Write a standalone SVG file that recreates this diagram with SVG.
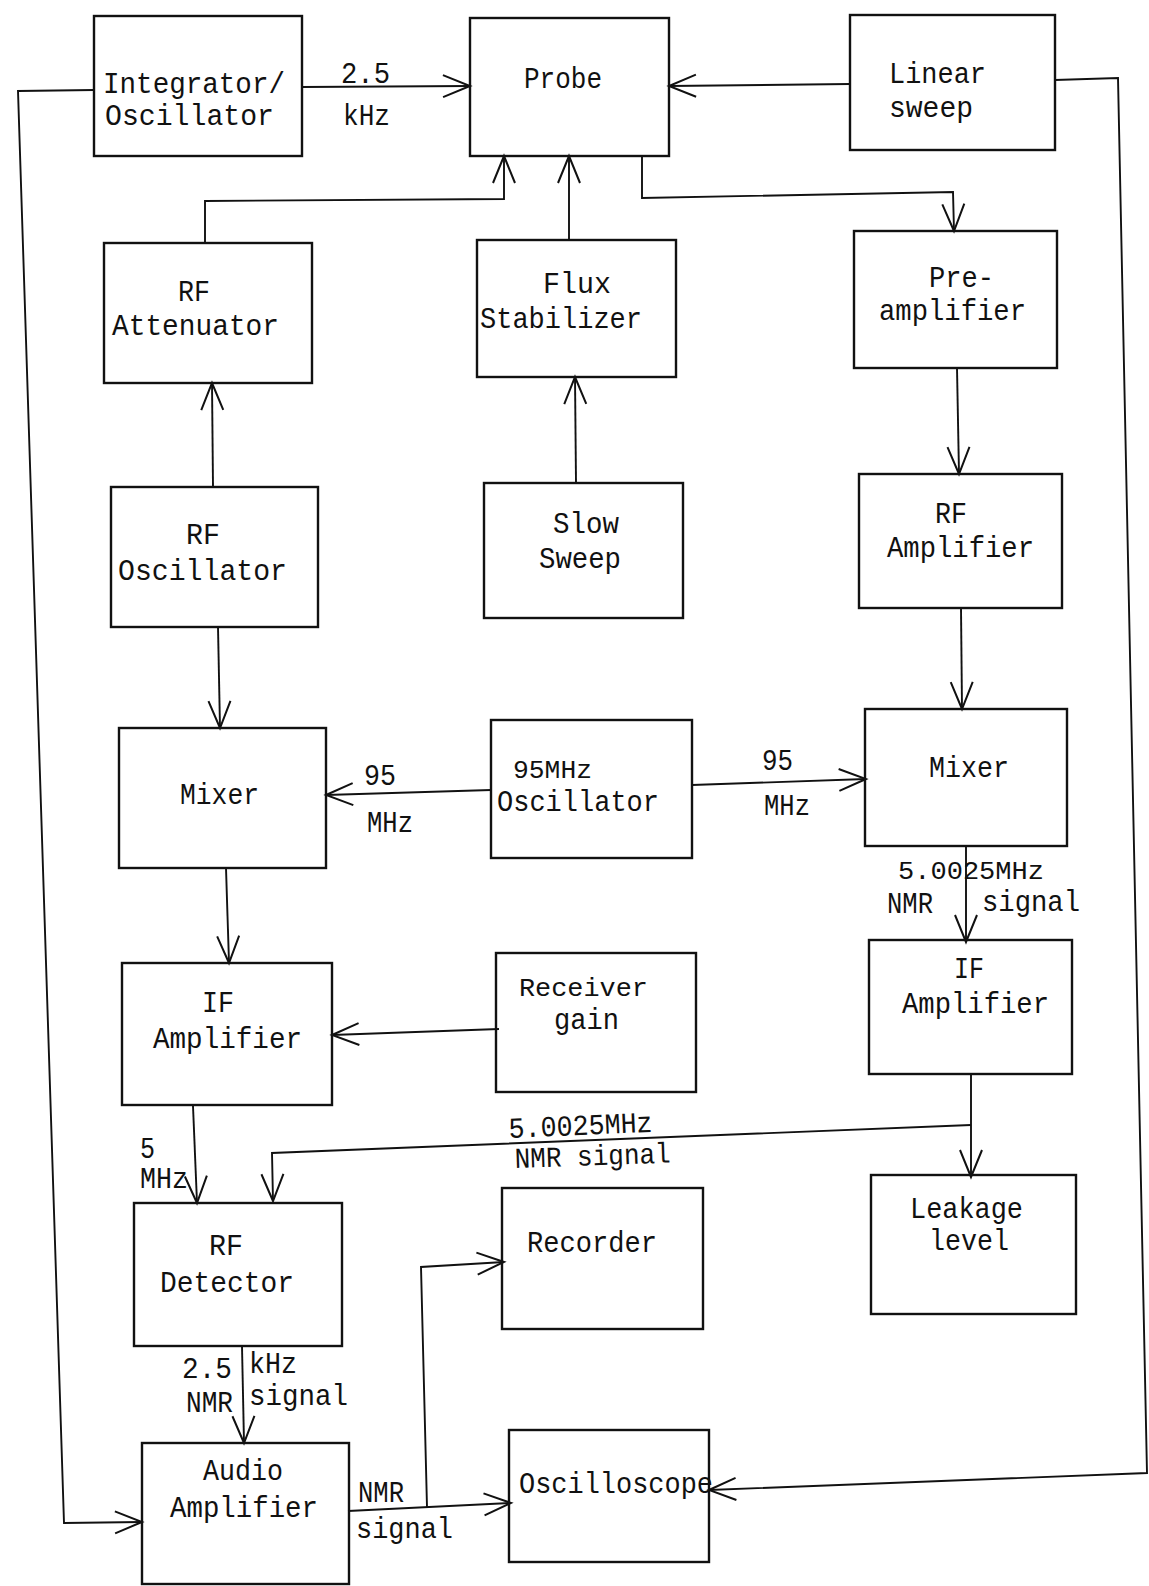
<svg xmlns="http://www.w3.org/2000/svg" width="1149" height="1586" viewBox="0 0 1149 1586">
<style>
.box{fill:none;stroke:#111;stroke-width:2.4}
.ln{fill:none;stroke:#111;stroke-width:1.9;stroke-linejoin:miter}
.arr{marker-end:url(#ah)}
text{font-family:"Liberation Mono","Courier New",monospace;font-size:30px;fill:#111}
.lb{font-size:29px}
.sm{font-size:26px}
</style>
<defs>
<marker id="ah" markerUnits="userSpaceOnUse" markerWidth="34" markerHeight="30" viewBox="-3 -15 34 30" refX="27" refY="0" orient="auto">
<path d="M0,-11 L27,0 L0,11" fill="none" stroke="#111" stroke-width="2"/>
</marker>
</defs>
<rect width="1149" height="1586" fill="#fff"/>

<g id="connectors">
<polyline class="ln arr" points="302,87 470,86"/>
<polyline class="ln arr" points="850,84 669,86"/>
<polyline class="ln arr" points="94,90 18,91 64,1523 142,1522"/>
<polyline class="ln arr" points="1055,80 1118,78 1147,1473 709,1490"/>
<polyline class="ln arr" points="642,156 642,198 953,192 954,231"/>
<polyline class="ln arr" points="205,243 205,201 504,199 504,156"/>
<polyline class="ln arr" points="569,240 569,156"/>
<polyline class="ln arr" points="576,483 575,377"/>
<polyline class="ln arr" points="213,487 212,383"/>
<polyline class="ln arr" points="957,368 959,474"/>
<polyline class="ln arr" points="961,608 962,709"/>
<polyline class="ln arr" points="218,627 220,728"/>
<polyline class="ln arr" points="491,790 326,795"/>
<polyline class="ln arr" points="692,785 866,779"/>
<polyline class="ln arr" points="226,868 229,963"/>
<polyline class="ln arr" points="499,1029 332,1035"/>
<polyline class="ln arr" points="966,846 966,942"/>
<polyline class="ln arr" points="971,1074 971,1177"/>
<polyline class="ln arr" points="971,1125 272,1153 273,1201"/>
<polyline class="ln arr" points="193,1106 197,1203"/>
<polyline class="ln arr" points="242,1346 244,1443"/>
<polyline class="ln arr" points="348,1511 511,1503"/>
<polyline class="ln arr" points="427,1507 421,1267 504,1262"/>

<text class="lb" x="341" y="83" textLength="49" lengthAdjust="spacingAndGlyphs">2.5</text>
<text class="lb" x="343" y="125" textLength="47" lengthAdjust="spacingAndGlyphs">kHz</text>
<text class="lb" x="364" y="785" textLength="32" lengthAdjust="spacingAndGlyphs">95</text>
<text class="lb" x="367" y="832" textLength="46" lengthAdjust="spacingAndGlyphs">MHz</text>
<text class="lb" x="762" y="770" textLength="31" lengthAdjust="spacingAndGlyphs">95</text>
<text class="lb" x="764" y="815" textLength="46" lengthAdjust="spacingAndGlyphs">MHz</text>
<text class="sm" x="898" y="879" textLength="146" lengthAdjust="spacingAndGlyphs">5.0025MHz</text>
<text class="lb" x="887" y="913" textLength="46" lengthAdjust="spacingAndGlyphs">NMR</text>
<text class="lb" x="982" y="911" textLength="98" lengthAdjust="spacingAndGlyphs">signal</text>
<text class="lb" x="509" y="1138" textLength="144" lengthAdjust="spacingAndGlyphs" transform="rotate(-2.5 509 1138)">5.0025MHz</text>
<text class="lb" x="515" y="1168" textLength="156" lengthAdjust="spacingAndGlyphs" transform="rotate(-2 515 1168)">NMR signal</text>
<text class="lb" x="140" y="1158" textLength="15" lengthAdjust="spacingAndGlyphs">5</text>
<text class="lb" x="140" y="1188" textLength="48" lengthAdjust="spacingAndGlyphs">MHz</text>
<text class="lb" x="182" y="1378" textLength="50" lengthAdjust="spacingAndGlyphs">2.5</text>
<text class="lb" x="249" y="1373" textLength="48" lengthAdjust="spacingAndGlyphs">kHz</text>
<text class="lb" x="186" y="1412" textLength="47" lengthAdjust="spacingAndGlyphs">NMR</text>
<text class="lb" x="249" y="1405" textLength="99" lengthAdjust="spacingAndGlyphs">signal</text>
<text class="lb" x="358" y="1502" textLength="46" lengthAdjust="spacingAndGlyphs">NMR</text>
<text class="lb" x="356" y="1538" textLength="97" lengthAdjust="spacingAndGlyphs">signal</text>
</g>

<g id="integrator">
<rect class="box" x="94" y="16" width="208" height="140"/>
<text x="103" y="93" textLength="182" lengthAdjust="spacingAndGlyphs">Integrator/</text>
<text x="105" y="125" textLength="169" lengthAdjust="spacingAndGlyphs">Oscillator</text>
</g>
<g id="probe">
<rect class="box" x="470" y="18" width="199" height="138"/>
<text x="524" y="88" textLength="78" lengthAdjust="spacingAndGlyphs">Probe</text>
</g>
<g id="linear-sweep">
<rect class="box" x="850" y="15" width="205" height="135"/>
<text x="889" y="83" textLength="97" lengthAdjust="spacingAndGlyphs">Linear</text>
<text x="889" y="117" textLength="84" lengthAdjust="spacingAndGlyphs">sweep</text>
</g>
<g id="rf-attenuator">
<rect class="box" x="104" y="243" width="208" height="140"/>
<text x="178" y="301" textLength="32" lengthAdjust="spacingAndGlyphs">RF</text>
<text x="112" y="335" textLength="167" lengthAdjust="spacingAndGlyphs">Attenuator</text>
</g>
<g id="flux-stabilizer">
<rect class="box" x="477" y="240" width="199" height="137"/>
<text x="543" y="293" textLength="68" lengthAdjust="spacingAndGlyphs">Flux</text>
<text x="480" y="328" textLength="162" lengthAdjust="spacingAndGlyphs">Stabilizer</text>
</g>
<g id="preamplifier">
<rect class="box" x="854" y="231" width="203" height="137"/>
<text x="929" y="287" textLength="65" lengthAdjust="spacingAndGlyphs">Pre-</text>
<text x="879" y="320" textLength="147" lengthAdjust="spacingAndGlyphs">amplifier</text>
</g>
<g id="rf-oscillator">
<rect class="box" x="111" y="487" width="207" height="140"/>
<text x="186" y="544" textLength="34" lengthAdjust="spacingAndGlyphs">RF</text>
<text x="118" y="580" textLength="169" lengthAdjust="spacingAndGlyphs">Oscillator</text>
</g>
<g id="slow-sweep">
<rect class="box" x="484" y="483" width="199" height="135"/>
<text x="553" y="533" textLength="66" lengthAdjust="spacingAndGlyphs">Slow</text>
<text x="539" y="568" textLength="82" lengthAdjust="spacingAndGlyphs">Sweep</text>
</g>
<g id="rf-amplifier">
<rect class="box" x="859" y="474" width="203" height="134"/>
<text x="935" y="523" textLength="32" lengthAdjust="spacingAndGlyphs">RF</text>
<text x="887" y="557" textLength="147" lengthAdjust="spacingAndGlyphs">Amplifier</text>
</g>
<g id="mixer-left">
<rect class="box" x="119" y="728" width="207" height="140"/>
<text x="180" y="804" textLength="79" lengthAdjust="spacingAndGlyphs">Mixer</text>
</g>
<g id="oscillator-95">
<rect class="box" x="491" y="720" width="201" height="138"/>
<text class="sm" x="513" y="778" textLength="79" lengthAdjust="spacingAndGlyphs">95MHz</text>
<text x="497" y="811" textLength="162" lengthAdjust="spacingAndGlyphs">Oscillator</text>
</g>
<g id="mixer-right">
<rect class="box" x="865" y="709" width="202" height="137"/>
<text x="929" y="777" textLength="80" lengthAdjust="spacingAndGlyphs">Mixer</text>
</g>
<g id="if-amplifier-left">
<rect class="box" x="122" y="963" width="210" height="142"/>
<text x="202" y="1012" textLength="32" lengthAdjust="spacingAndGlyphs">IF</text>
<text x="153" y="1048" textLength="149" lengthAdjust="spacingAndGlyphs">Amplifier</text>
</g>
<g id="receiver-gain">
<rect class="box" x="496" y="953" width="200" height="139"/>
<text class="sm" x="519" y="996" textLength="129" lengthAdjust="spacingAndGlyphs">Receiver</text>
<text x="554" y="1029" textLength="65" lengthAdjust="spacingAndGlyphs">gain</text>
</g>
<g id="if-amplifier-right">
<rect class="box" x="869" y="940" width="203" height="134"/>
<text x="954" y="978" textLength="30" lengthAdjust="spacingAndGlyphs">IF</text>
<text x="902" y="1013" textLength="147" lengthAdjust="spacingAndGlyphs">Amplifier</text>
</g>
<g id="rf-detector">
<rect class="box" x="134" y="1203" width="208" height="143"/>
<text x="209" y="1255" textLength="34" lengthAdjust="spacingAndGlyphs">RF</text>
<text x="160" y="1292" textLength="134" lengthAdjust="spacingAndGlyphs">Detector</text>
</g>
<g id="recorder">
<rect class="box" x="502" y="1188" width="201" height="141"/>
<text x="527" y="1252" textLength="130" lengthAdjust="spacingAndGlyphs">Recorder</text>
</g>
<g id="leakage-level">
<rect class="box" x="871" y="1175" width="205" height="139"/>
<text x="910" y="1218" textLength="113" lengthAdjust="spacingAndGlyphs">Leakage</text>
<text x="929" y="1250" textLength="80" lengthAdjust="spacingAndGlyphs">level</text>
</g>
<g id="audio-amplifier">
<rect class="box" x="142" y="1443" width="207" height="141"/>
<text x="203" y="1480" textLength="80" lengthAdjust="spacingAndGlyphs">Audio</text>
<text x="170" y="1517" textLength="148" lengthAdjust="spacingAndGlyphs">Amplifier</text>
</g>
<g id="oscilloscope">
<rect class="box" x="509" y="1430" width="200" height="132"/>
<text x="519" y="1493" textLength="194" lengthAdjust="spacingAndGlyphs">Oscilloscope</text>
</g>
</svg>
